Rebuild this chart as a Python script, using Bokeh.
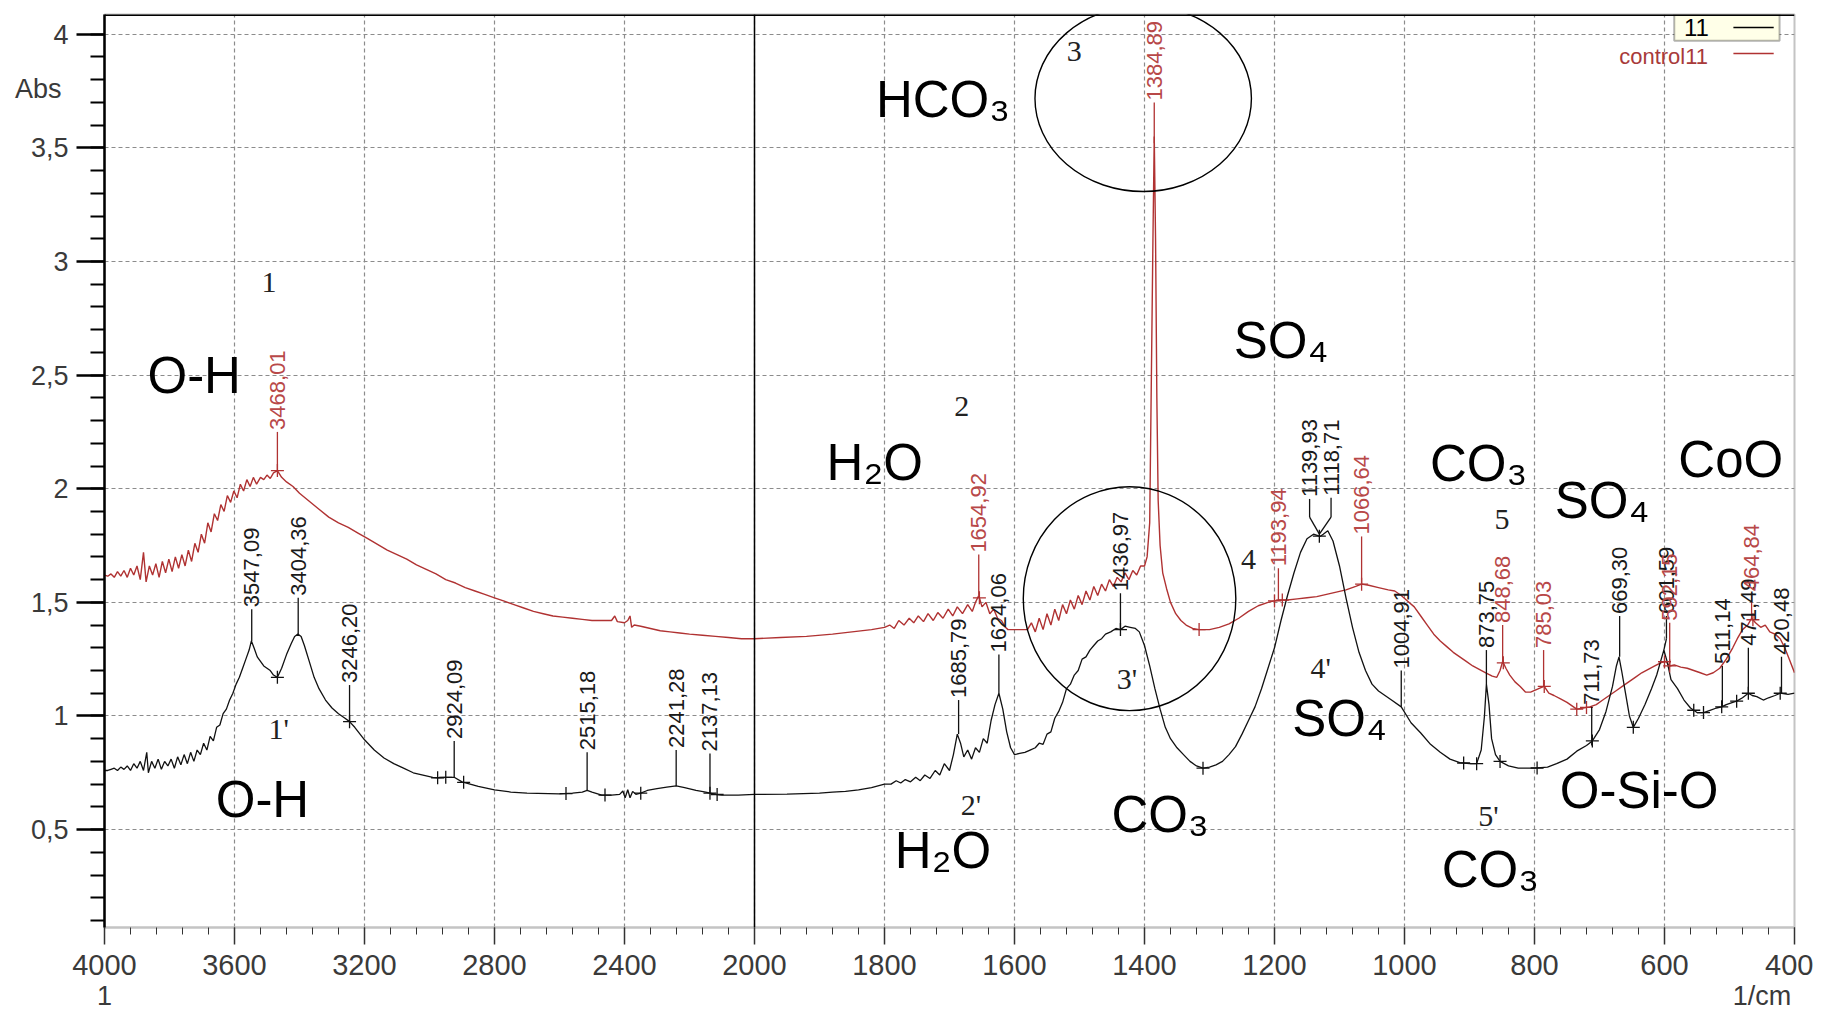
import numpy as np
from bokeh.plotting import figure
from bokeh.models import (Range1d, FixedTicker, Span, Label, BoxAnnotation, LinearAxis,
                          CustomJSTickFormatter)
from bokeh.core.properties import value
from bokeh.embed import file_html
from bokeh.resources import INLINE

# ---------------- data (wavenumber 1/cm, absorbance) ----------------
black_wn = [4000, 3990, 3980, 3970, 3960, 3950, 3940, 3930, 3920, 3910, 3900, 3890, 3880, 3870, 3865,
            3855, 3845, 3835, 3825, 3815, 3805, 3795, 3785, 3775, 3765, 3755, 3745, 3735, 3725, 3715,
            3705, 3695, 3685, 3675, 3665, 3655, 3645, 3635, 3625, 3615, 3605, 3595, 3585, 3575, 3565,
            3555, 3548, 3540, 3530, 3520, 3510, 3500, 3490, 3480, 3468, 3455, 3440, 3425, 3415, 3405,
            3395, 3385, 3370, 3355, 3340, 3320, 3300, 3280, 3260, 3246, 3230, 3200, 3170, 3140, 3110,
            3080, 3050, 3020, 2990, 2975, 2950, 2924, 2900, 2875, 2850, 2800, 2750, 2700, 2600, 2560,
            2530, 2515, 2500, 2470, 2440, 2415, 2405, 2398, 2390, 2383, 2375, 2365, 2350, 2330, 2300,
            2270, 2241, 2215, 2180, 2150, 2137, 2120, 2100, 2050, 2000, 1950, 1900, 1880, 1860, 1840,
            1820, 1800, 1790, 1782, 1775, 1768, 1760, 1752, 1745, 1738, 1730, 1722, 1715, 1708, 1700,
            1694, 1688, 1683, 1678, 1672, 1666, 1660, 1654, 1648, 1642, 1636, 1630, 1624, 1618, 1612,
            1606, 1600, 1592, 1584, 1576, 1568, 1562, 1556, 1550, 1544, 1538, 1532, 1526, 1520, 1514,
            1508, 1502, 1496, 1490, 1484, 1478, 1472, 1466, 1460, 1452, 1444, 1437, 1430, 1422, 1414,
            1408, 1400, 1392, 1384, 1376, 1368, 1360, 1350, 1340, 1330, 1320, 1310, 1300, 1290, 1280,
            1270, 1260, 1250, 1240, 1230, 1220, 1210, 1200, 1190, 1180, 1170, 1160, 1150, 1140, 1130,
            1125, 1118, 1110, 1100, 1090, 1080, 1070, 1060, 1050, 1040, 1030, 1020, 1005, 990, 975,
            960, 945, 930, 915, 900, 889, 882, 877, 874, 870, 866, 860, 853, 840, 825,
            800, 780, 766, 750, 735, 720, 711, 700, 690, 680, 674, 670, 666, 660, 654,
            648, 640, 630, 620, 612, 606, 601, 596, 590, 580, 570, 560, 550, 540, 530,
            520, 512, 505, 495, 489, 480, 471, 465, 458, 448, 440, 430, 422, 410, 400]
black_abs = [0.76, 0.76, 0.765, 0.77, 0.76, 0.775, 0.765, 0.78, 0.76, 0.79, 0.77, 0.80, 0.76, 0.84, 0.75,
             0.80, 0.77, 0.81, 0.765, 0.80, 0.78, 0.81, 0.77, 0.82, 0.785, 0.83, 0.79, 0.84, 0.80, 0.85,
             0.83, 0.88, 0.85, 0.91, 0.89, 0.95, 0.96, 1.01, 1.03, 1.07, 1.10, 1.14, 1.17, 1.21, 1.25,
             1.29, 1.33, 1.30, 1.26, 1.24, 1.22, 1.21, 1.20, 1.18, 1.17, 1.21, 1.27, 1.32, 1.35, 1.36,
             1.35, 1.31, 1.24, 1.17, 1.12, 1.07, 1.035, 1.01, 0.99, 0.975, 0.95, 0.895, 0.85, 0.815, 0.79,
             0.77, 0.75, 0.74, 0.73, 0.728, 0.73, 0.73, 0.71, 0.70, 0.69, 0.675, 0.665, 0.66, 0.657, 0.66,
             0.665, 0.672, 0.665, 0.652, 0.652, 0.655, 0.67, 0.64, 0.675, 0.64, 0.668, 0.655, 0.66, 0.672, 0.68,
             0.687, 0.692, 0.685, 0.672, 0.665, 0.66, 0.655, 0.652, 0.652, 0.655, 0.656, 0.66, 0.665, 0.668, 0.675,
             0.685, 0.70, 0.70, 0.715, 0.705, 0.72, 0.71, 0.73, 0.715, 0.74, 0.725, 0.76, 0.74, 0.79, 0.76,
             0.83, 0.92, 0.88, 0.82, 0.85, 0.81, 0.86, 0.84, 0.90, 0.88, 0.98, 1.05, 1.10, 1.03, 0.93,
             0.86, 0.83, 0.835, 0.84, 0.85, 0.86, 0.88, 0.875, 0.92, 0.93, 0.99, 1.02, 1.06, 1.12, 1.14,
             1.18, 1.20, 1.25, 1.26, 1.29, 1.31, 1.33, 1.34, 1.36, 1.37, 1.385, 1.38, 1.395, 1.39, 1.385,
             1.37, 1.31, 1.22, 1.12, 1.03, 0.95, 0.90, 0.86, 0.83, 0.80, 0.78, 0.77, 0.775, 0.785, 0.80,
             0.83, 0.865, 0.92, 0.98, 1.04, 1.12, 1.21, 1.30, 1.42, 1.53, 1.63, 1.72, 1.78, 1.80, 1.79,
             1.80, 1.815, 1.77, 1.66, 1.52, 1.39, 1.28, 1.20, 1.14, 1.11, 1.09, 1.07, 1.04, 0.97, 0.925,
             0.875, 0.84, 0.81, 0.795, 0.79, 0.79, 0.85, 1.00, 1.14, 1.05, 0.90, 0.83, 0.80, 0.78, 0.77,
             0.77, 0.775, 0.79, 0.81, 0.845, 0.87, 0.89, 0.94, 1.02, 1.13, 1.22, 1.26, 1.20, 1.10, 1.00,
             0.95, 0.99, 1.05, 1.12, 1.18, 1.24, 1.29, 1.24, 1.16, 1.12, 1.07, 1.035, 1.015, 1.015, 1.025,
             1.035, 1.04, 1.05, 1.06, 1.065, 1.08, 1.10, 1.09, 1.085, 1.07, 1.08, 1.09, 1.10, 1.095, 1.10]

red_wn = [4000, 3990, 3980, 3970, 3960, 3950, 3940, 3930, 3920, 3910, 3900, 3890, 3880, 3872, 3862,
          3852, 3842, 3832, 3822, 3812, 3802, 3792, 3782, 3772, 3762, 3752, 3742, 3732, 3722, 3712,
          3702, 3692, 3682, 3672, 3662, 3652, 3642, 3632, 3622, 3612, 3602, 3592, 3582, 3572, 3562,
          3552, 3542, 3532, 3520, 3510, 3500, 3490, 3480, 3468, 3455, 3440, 3420, 3400, 3370, 3340,
          3310, 3280, 3250, 3220, 3190, 3160, 3130, 3100, 3070, 3040, 3010, 2980, 2950, 2920, 2890,
          2860, 2830, 2800, 2770, 2740, 2710, 2680, 2650, 2620, 2590, 2560, 2530, 2500, 2470, 2440,
          2430, 2422, 2400, 2390, 2383, 2378, 2370, 2350, 2320, 2290, 2260, 2230, 2200, 2160, 2120,
          2080, 2040, 2000, 1960, 1920, 1880, 1850, 1820, 1800, 1792, 1785, 1778, 1770, 1762, 1755,
          1748, 1740, 1733, 1725, 1718, 1710, 1702, 1695, 1688, 1680, 1672, 1665, 1660, 1655, 1650,
          1644, 1638, 1632, 1626, 1620, 1614, 1610, 1580, 1574, 1568, 1562, 1556, 1550, 1544, 1538,
          1532, 1526, 1520, 1514, 1508, 1502, 1496, 1490, 1484, 1478, 1472, 1466, 1460, 1454, 1448,
          1442, 1436, 1430, 1424, 1418, 1412, 1406, 1400, 1396, 1392, 1389, 1387, 1385, 1383, 1381,
          1379, 1376, 1372, 1366, 1360, 1352, 1344, 1336, 1326, 1316, 1300, 1285, 1270, 1255, 1240,
          1225, 1210, 1194, 1180, 1165, 1150, 1135, 1120, 1105, 1090, 1075, 1066, 1055, 1040, 1025,
          1015, 1005, 995, 985, 975, 965, 955, 945, 935, 925, 915, 905, 895, 885, 875,
          865, 858, 853, 849, 844, 838, 830, 822, 814, 806, 798, 790, 785, 778, 770,
          760, 750, 740, 735, 725, 715, 705, 695, 685, 675, 665, 655, 645, 635, 625,
          615, 605, 598, 592, 585, 575, 565, 555, 545, 535, 525, 515, 505, 495, 488,
          480, 472, 466, 460, 452, 445, 438, 430, 422, 415, 408, 400]
red_abs = [1.62, 1.615, 1.625, 1.61, 1.635, 1.615, 1.64, 1.61, 1.65, 1.62, 1.66, 1.60, 1.72, 1.59, 1.66,
           1.62, 1.67, 1.61, 1.68, 1.63, 1.69, 1.635, 1.70, 1.65, 1.71, 1.66, 1.73, 1.68, 1.76, 1.72,
           1.80, 1.76, 1.85, 1.81, 1.89, 1.86, 1.93, 1.90, 1.97, 1.94, 1.99, 1.96, 2.02, 1.99, 2.04,
           2.01, 2.05, 2.02, 2.05, 2.04, 2.06, 2.045, 2.07, 2.08, 2.05, 2.03, 2.01, 1.98, 1.945, 1.91,
           1.875, 1.85, 1.83, 1.805, 1.78, 1.755, 1.73, 1.71, 1.69, 1.665, 1.645, 1.625, 1.60, 1.585, 1.565,
           1.55, 1.535, 1.52, 1.505, 1.49, 1.475, 1.46, 1.45, 1.44, 1.435, 1.43, 1.425, 1.42, 1.42, 1.42,
           1.44, 1.415, 1.41, 1.42, 1.44, 1.39, 1.40, 1.395, 1.385, 1.375, 1.37, 1.365, 1.36, 1.355, 1.35,
           1.345, 1.34, 1.34, 1.345, 1.35, 1.36, 1.37, 1.38, 1.39, 1.40, 1.385, 1.42, 1.40, 1.43, 1.41,
           1.44, 1.415, 1.45, 1.42, 1.455, 1.43, 1.47, 1.44, 1.48, 1.45, 1.49, 1.46, 1.50, 1.53, 1.48,
           1.50, 1.45, 1.47, 1.43, 1.42, 1.39, 1.38, 1.38, 1.41, 1.37, 1.43, 1.38, 1.45, 1.40, 1.47,
           1.42, 1.49, 1.45, 1.51, 1.47, 1.53, 1.49, 1.55, 1.51, 1.57, 1.53, 1.58, 1.55, 1.60, 1.57,
           1.61, 1.59, 1.63, 1.60, 1.64, 1.62, 1.66, 1.66, 1.70, 1.85, 2.6, 3.1, 3.55, 3.1, 2.4,
           1.95, 1.75, 1.63, 1.56, 1.50, 1.45, 1.42, 1.40, 1.385, 1.38, 1.38, 1.39, 1.405, 1.43, 1.46,
           1.485, 1.50, 1.51, 1.51, 1.515, 1.52, 1.525, 1.535, 1.545, 1.555, 1.57, 1.58, 1.575, 1.565, 1.555,
           1.55, 1.53, 1.505, 1.48, 1.44, 1.40, 1.36, 1.33, 1.305, 1.28, 1.26, 1.24, 1.22, 1.205, 1.19,
           1.175, 1.17, 1.20, 1.24, 1.21, 1.18, 1.15, 1.13, 1.105, 1.105, 1.115, 1.125, 1.13, 1.10, 1.09,
           1.075, 1.06, 1.04, 1.03, 1.035, 1.04, 1.05, 1.07, 1.09, 1.11, 1.13, 1.15, 1.17, 1.19, 1.205,
           1.22, 1.235, 1.24, 1.22, 1.225, 1.215, 1.21, 1.20, 1.19, 1.18, 1.19, 1.21, 1.25, 1.30, 1.34,
           1.38, 1.40, 1.43, 1.41, 1.39, 1.40, 1.37, 1.36, 1.34, 1.30, 1.25, 1.19]

# peak labels: text position (wn), leader start on curve (wn), curve y, knee y, text start y
blk_lbl_text = ["3547,09", "3404,36", "3246,20", "2924,09", "2515,18", "2241,28", "2137,13",
                "1685,79", "1624,06", "1436,97", "1139,93", "1118,71", "1004,91", "873,75",
                "711,73", "669,30", "601,59", "511,14", "471,49", "420,48"]
blk_lbl_wn = [3547, 3404, 3246, 2924, 2515, 2241, 2137, 1686, 1624, 1437, 1146, 1113, 1005, 874,
              712, 669, 597, 511, 471, 420]
blk_lbl_base_wn = [3547, 3404, 3246, 2924, 2515, 2241, 2137, 1686, 1624, 1437, 1131, 1131, 1005, 874,
                   712, 669, 601, 511, 471, 420]
blk_lbl_base = [1.33, 1.36, 0.975, 0.73, 0.672, 0.692, 0.66, 0.92, 1.10, 1.38, 1.80, 1.80, 1.04, 1.14,
                0.87, 1.26, 1.29, 1.04, 1.10, 1.10]
blk_lbl_knee = [1.33, 1.36, 0.975, 0.73, 0.672, 0.692, 0.66, 0.92, 1.10, 1.38, 1.875, 1.875, 1.04, 1.14,
                0.87, 1.26, 1.34, 1.04, 1.10, 1.10]
blk_lbl_top = [1.47, 1.52, 1.136, 0.89, 0.84, 0.85, 0.835, 1.07, 1.27, 1.54, 1.955, 1.96, 1.20, 1.29,
               1.04, 1.44, 1.44, 1.22, 1.30, 1.26]

red_lbl_text = ["3468,01", "1654,92", "1384,89", "1193,94", "1066,64", "848,68", "785,03",
                "592,15", "464,84"]
red_lbl_wn = [3468, 1655, 1385, 1194, 1066, 849, 786, 592, 466]
red_lbl_base = [2.08, 1.53, 3.52, 1.51, 1.58, 1.24, 1.13, 1.22, 1.43]
red_lbl_top = [2.25, 1.71, 3.70, 1.65, 1.79, 1.40, 1.29, 1.41, 1.54]

blk_cross_wn = [3468, 3246, 2975, 2950, 2895, 2580, 2460, 2350, 2137, 2115, 1437, 1310, 1131,
                909, 889, 853, 796, 711, 648, 555, 540, 512, 489, 471, 422]
red_cross_wn = [3468, 1654, 1316, 1200, 1188, 1066, 848, 785, 735, 720, 600, 592, 464]

x_tick_wn = [4000, 3600, 3200, 2800, 2400, 2000, 1800, 1600, 1400, 1200, 1000, 800, 600, 400]
x_tick_labels = [str(w) for w in x_tick_wn]
y_ticks = [0.5, 1.0, 1.5, 2.0, 2.5, 3.0, 3.5, 4.0]
y_tick_labels = ["0,5", "1", "1,5", "2", "2,5", "3", "3,5", "4"]
x_unit_labels = ["1", "1/cm"]
y_unit_label = ["Abs"]


def to_t(w):
    """Piecewise wavenumber axis: 4000-2000 at half the scale of 2000-400."""
    w = np.asarray(w, dtype=float)
    return np.where(w >= 2000, (4000 - w) / 2.0, 1000 + (2000 - w))


LOOKUP = """
let b = 0, bd = Infinity;
for (let i = 0; i < pos.length; i++) { const d = Math.abs(pos[i] - tick); if (d < bd) { bd = d; b = i; } }
return lab[b];
"""

RED = "#b03232"
RED_TXT = "#b84848"
BLK = "#111111"
AX_TXT = "#3a3a3a"

p = figure(frame_width=1690, frame_height=913, output_backend="svg", toolbar_location=None,
           x_range=Range1d(0, 2600), y_range=Range1d(0.069, 4.087),
           min_border_left=104, min_border_right=19, min_border_top=14, min_border_bottom=84,
           background_fill_color="white", border_fill_color="white")
p.outline_line_color = "#c4c4c4"
p.outline_line_width = 2

# axes / ticks
xt = [float(v) for v in to_t(x_tick_wn)]
p.xaxis.ticker = FixedTicker(ticks=xt, minor_ticks=list(range(0, 2601, 40)))
p.xaxis.formatter = CustomJSTickFormatter(args=dict(pos=xt, lab=x_tick_labels), code=LOOKUP)
p.yaxis.ticker = FixedTicker(ticks=y_ticks, minor_ticks=[round(0.1 * i, 1) for i in range(1, 41)])
p.yaxis.formatter = CustomJSTickFormatter(args=dict(pos=y_ticks, lab=y_tick_labels), code=LOOKUP)
for ax in (p.xaxis[0], p.yaxis[0]):
    ax.major_label_text_font = "Liberation Sans"
    ax.major_label_text_color = AX_TXT
    ax.major_tick_in = 0
    ax.minor_tick_in = 0
p.xaxis.major_label_text_font_size = "29px"
p.yaxis.major_label_text_font_size = "27px"

p.xaxis.axis_line_color = "#c4c4c4"
p.xaxis.axis_line_width = 2
p.xaxis.major_tick_out = 17
p.xaxis.minor_tick_out = 7
p.xaxis.major_tick_line_color = "#333333"
p.xaxis.minor_tick_line_color = "#333333"
p.xaxis.major_tick_line_width = 1.5
p.xaxis.major_label_standoff = 10

p.yaxis.axis_line_color = "black"
p.yaxis.axis_line_width = 2.5
p.yaxis.major_tick_out = 28
p.yaxis.minor_tick_out = 14
p.yaxis.major_tick_line_color = "black"
p.yaxis.minor_tick_line_color = "black"
p.yaxis.major_tick_line_width = 2.5
p.yaxis.minor_tick_line_width = 2
p.yaxis.major_label_standoff = 8

# unit captions as extra label-only axes ("1" / "1/cm" below, "Abs" at left)
ux = [0.0, 2550.0]
ax_units = LinearAxis(ticker=FixedTicker(ticks=ux),
                      formatter=CustomJSTickFormatter(args=dict(pos=ux, lab=x_unit_labels), code=LOOKUP))
ax_abs = LinearAxis(ticker=FixedTicker(ticks=[3.76]),
                    formatter=CustomJSTickFormatter(args=dict(pos=[3.76], lab=y_unit_label), code=LOOKUP))
for ax in (ax_units, ax_abs):
    ax.axis_line_color = None
    ax.major_tick_line_color = None
    ax.minor_tick_line_color = None
    ax.major_tick_out = 0
    ax.major_tick_in = 0
    ax.minor_tick_out = 0
    ax.minor_tick_in = 0
    ax.major_label_text_font = "Liberation Sans"
    ax.major_label_text_font_size = "27px"
    ax.major_label_text_color = AX_TXT
ax_units.major_label_standoff = 3
ax_abs.major_label_standoff = -34
p.add_layout(ax_units, "below")
p.add_layout(ax_abs, "left")

for g in (p.xgrid[0], p.ygrid[0]):
    g.grid_line_color = "#8c8c8c"
    g.grid_line_dash = "4 3"
    g.grid_line_width = 1.2

# legend box (under the curves so its sample line shows)
p.add_layout(BoxAnnotation(left=2415, right=2577, top=4.087, bottom=3.972, fill_color="#ffffe8",
                           fill_alpha=1, line_color="black", line_width=2, level="underlay"))

# frame lines
p.add_layout(Span(location=4.087, dimension="width", line_color="black", line_width=3))
p.add_layout(Span(location=1000, dimension="height", line_color="black", line_width=1.5))

# spectra
p.line(to_t(red_wn), red_abs, line_color=RED, line_width=1.4)
p.line(to_t(black_wn), black_abs, line_color=BLK, line_width=1.3)

# crosses on curves
bw_sorted = np.array(black_wn[::-1], dtype=float)
ba_sorted = np.array(black_abs[::-1], dtype=float)
rw_sorted = np.array(red_wn[::-1], dtype=float)
ra_sorted = np.array(red_abs[::-1], dtype=float)
p.scatter(to_t(blk_cross_wn), np.interp(blk_cross_wn, bw_sorted, ba_sorted), marker="cross",
          size=13, line_color=BLK, line_width=1.3)
p.scatter(to_t(red_cross_wn), np.interp(red_cross_wn, rw_sorted, ra_sorted), marker="cross",
          size=13, line_color=RED, line_width=1.3)

# leader lines + rotated peak labels
p.segment(to_t(blk_lbl_base_wn), blk_lbl_base, to_t(blk_lbl_wn), blk_lbl_knee, line_color=BLK, line_width=1.3)
p.segment(to_t(blk_lbl_wn), blk_lbl_knee, to_t(blk_lbl_wn), blk_lbl_top, line_color=BLK, line_width=1.3)
p.segment(to_t(red_lbl_wn), red_lbl_base, to_t(red_lbl_wn), red_lbl_top, line_color=RED, line_width=1.3)
p.text(to_t(blk_lbl_wn), blk_lbl_top, text=blk_lbl_text, angle=np.pi / 2, text_align="left",
       text_baseline="middle", text_font=value("Liberation Sans"), text_font_size="22px",
       text_color="#1a1a1a", y_offset=-2)
p.text(to_t(red_lbl_wn), red_lbl_top, text=red_lbl_text, angle=np.pi / 2, text_align="left",
       text_baseline="middle", text_font=value("Liberation Sans"), text_font_size="22px",
       text_color=RED_TXT, y_offset=-2)

# circles around bands 3 and 3'
p.ellipse(x=to_t([1402, 1423]), y=[3.717, 1.516], width=[333, 327], height=[0.818, 0.985],
          fill_alpha=0, line_color="black", line_width=1.4)

# big assignment labels
big = [("O-H", 138, 2.50), ("O-H", 243, 0.634), ("H\u2082O", 1185, 2.116), ("H\u2082O", 1290, 0.408),
       ("HCO\u2083", 1290, 3.714), ("SO\u2084", 1810, 2.652), ("SO\u2084", 1900, 0.99),
       ("CO\u2083", 1624, 0.567), ("CO\u2083", 2114, 2.11), ("CO\u2083", 2132, 0.326),
       ("SO\u2084", 2304, 1.95), ("CoO", 2502, 2.13), ("O-Si-O", 2361, 0.673)]
for txt, tx, ty in big:
    p.add_layout(Label(x=tx, y=ty, text=txt, text_align="center", text_baseline="middle",
                       text_font="Liberation Sans", text_font_size="51px", text_color="black"))

nums = [("1", 253, 2.907), ("1'", 268, 0.945), ("2", 1319, 2.36), ("2'", 1333, 0.612),
        ("3", 1492, 3.924), ("3'", 1573, 1.165), ("4", 1760, 1.69), ("4'", 1871, 1.215),
        ("5", 2150, 1.865), ("5'", 2129, 0.563)]
for txt, tx, ty in nums:
    p.add_layout(Label(x=tx, y=ty, text=txt, text_align="center", text_baseline="middle",
                       text_font="Liberation Serif", text_font_size="30px", text_color="#222222"))

# legend entries
p.add_layout(Label(x=2449, y=4.03, text="11", text_align="center", text_baseline="middle",
                   text_font="Liberation Sans", text_font_size="24px", text_color="black"))
p.segment([2506], [4.03], [2568], [4.03], line_color="black", line_width=1.5)
p.add_layout(Label(x=2467, y=3.90, text="control11", text_align="right", text_baseline="middle",
                   text_font="Liberation Sans", text_font_size="22px", text_color="#a83a3a"))
p.segment([2506], [3.915], [2568], [3.915], line_color=RED, line_width=1.5)

open("out.html", "w").write(file_html(p, INLINE))
